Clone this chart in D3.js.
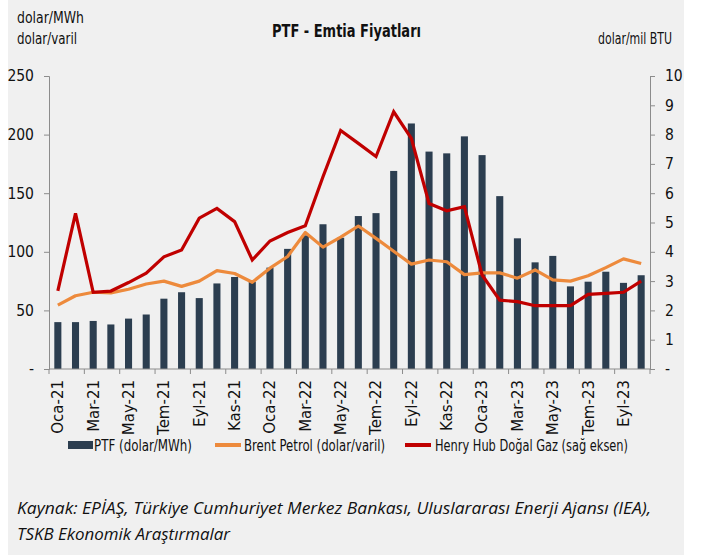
<!DOCTYPE html>
<html><head><meta charset="utf-8">
<script src="https://cdn.jsdelivr.net/npm/d3@7/dist/d3.min.js"></script>
<style>body{margin:0;background:#fff;} svg{display:block;}</style>
</head><body>
<svg id="c" width="711" height="555"></svg>
<script>
const categories = ["Oca-21","Şub-21","Mar-21","Nis-21","May-21","Haz-21","Tem-21","Ağu-21","Eyl-21","Eki-21","Kas-21","Ara-21",
"Oca-22","Şub-22","Mar-22","Nis-22","May-22","Haz-22","Tem-22","Ağu-22","Eyl-22","Eki-22","Kas-22","Ara-22",
"Oca-23","Şub-23","Mar-23","Nis-23","May-23","Haz-23","Tem-23","Ağu-23","Eyl-23","Eki-23"];
const ptf = [40,40,41,38,43,46.5,60,65.5,60.5,73,78.5,74.5,86.5,102.5,114,123.5,112,130.5,133,169,209.5,185.5,184,198.5,182.5,147.5,111.5,91,96.5,70.5,74.5,83,73.5,80];
const brent = [54.5,62.5,65.5,65,68,72.5,75,70.5,75,84,81.5,74,86,96,116.5,104,112.5,122,111.5,100.5,89.5,93,91.5,80.5,82,82,77.5,84.5,76,75,79.5,86.5,94,90];
const henryHub = [2.67,5.31,2.62,2.66,2.95,3.27,3.83,4.06,5.15,5.48,5.03,3.72,4.37,4.66,4.89,6.56,8.14,7.7,7.25,8.78,7.87,5.65,5.4,5.54,3.21,2.35,2.3,2.16,2.16,2.16,2.55,2.58,2.62,3.0];
const leftTicks = [0,50,100,150,200,250];
const rightTicks = [0,1,2,3,4,5,6,7,8,9,10];

const svg = d3.select("#c");
const narrow = "'Liberation Sans Narrow','DejaVu Sans Condensed',sans-serif";
svg.append("rect").attr("x",8).attr("y",0).attr("width",676).attr("height",555).attr("fill","#f0f0f0");

const L=49,R=650,T=76,B=369;
const x = d3.scaleBand().domain(categories).range([L,R]).paddingInner(0.6).paddingOuter(0.3);
const yL = d3.scaleLinear().domain([0,250]).range([B,T]);
const yR = d3.scaleLinear().domain([0,10]).range([B,T]);
const axisCol = "#8c8c8c";

// bars
svg.append("g").selectAll("rect").data(ptf).join("rect")
  .attr("x",(d,i)=>x(categories[i])).attr("width",x.bandwidth())
  .attr("y",d=>yL(d)).attr("height",d=>B-yL(d)).attr("fill","#2c3e50");

// left axis
const gl = svg.append("g").attr("transform",`translate(${L},0)`)
  .call(d3.axisLeft(yL).tickValues(leftTicks).tickSize(5).tickPadding(10).tickFormat(d=>d===0?"-":d));
gl.select(".domain").attr("stroke",axisCol);
gl.selectAll(".tick line").attr("stroke",axisCol);
gl.selectAll("text").attr("font-family",narrow).attr("font-size",15.5).attr("fill","#111");

// right axis
const gr = svg.append("g").attr("transform",`translate(${R},0)`)
  .call(d3.axisRight(yR).tickValues(rightTicks).tickSize(5).tickPadding(10).tickFormat(d=>d===0?"-":d));
gr.select(".domain").attr("stroke",axisCol);
gr.selectAll(".tick line").attr("stroke",axisCol);
gr.selectAll("text").attr("font-family",narrow).attr("font-size",15.5).attr("fill","#111");

// x axis
const step = x.step();
svg.append("line").attr("x1",L).attr("x2",R).attr("y1",B).attr("y2",B).attr("stroke",axisCol);
const tickIdx = categories.map((c,i)=>i).filter(i=>i%2===0);
svg.append("g").selectAll("line").data(tickIdx.concat([categories.length])).join("line")
  .attr("x1",i=>L+i*step).attr("x2",i=>L+i*step).attr("y1",B).attr("y2",B+5).attr("stroke",axisCol);
svg.append("g").selectAll("text").data(tickIdx).join("text")
  .attr("transform",i=>`translate(${x(categories[i])+x.bandwidth()/2},${B+11}) rotate(-90)`)
  .attr("text-anchor","end").attr("dy","0.36em")
  .attr("font-family","'DejaVu Sans',sans-serif").attr("font-size",15).attr("fill","#111")
  .text(i=>categories[i]);

// lines
const cx = (d,i)=>x(categories[i])+x.bandwidth()/2;
svg.append("path").datum(brent).attr("fill","none").attr("stroke","#ed8a3c").attr("stroke-width",3.2)
  .attr("stroke-linejoin","round").attr("d",d3.line().x(cx).y(d=>yL(d)));
svg.append("path").datum(henryHub).attr("fill","none").attr("stroke","#c00000").attr("stroke-width",3.2)
  .attr("stroke-linejoin","miter").attr("d",d3.line().x(cx).y(d=>yR(d)));

// titles
const fitText = (sel,len)=>sel.attr("textLength",len).attr("lengthAdjust","spacingAndGlyphs");
fitText(svg.append("text").attr("x",272).attr("y",37).attr("font-family",narrow)
  .attr("font-weight","bold").attr("font-size",18).attr("fill","#111").text("PTF - Emtia Fiyatları"),149);
fitText(svg.append("text").attr("x",17).attr("y",23).attr("font-family",narrow).attr("font-size",16.5).attr("fill","#111").text("dolar/MWh"),67);
fitText(svg.append("text").attr("x",17).attr("y",44).attr("font-family",narrow).attr("font-size",16.5).attr("fill","#111").text("dolar/varil"),60);
fitText(svg.append("text").attr("x",598).attr("y",44).attr("font-family",narrow).attr("font-size",16.5).attr("fill","#111").text("dolar/mil BTU"),74);

// legend
const lg = svg.append("g").attr("font-family",narrow).attr("font-size",16.5).attr("fill","#111");
lg.append("rect").attr("x",68).attr("y",441).attr("width",25).attr("height",8).attr("fill","#2c3e50");
fitText(lg.append("text").attr("x",94).attr("y",451).text("PTF (dolar/MWh)"),98);
lg.append("line").attr("x1",215).attr("x2",241).attr("y1",445).attr("y2",445).attr("stroke","#ed8a3c").attr("stroke-width",4);
fitText(lg.append("text").attr("x",244).attr("y",451).text("Brent Petrol (dolar/varil)"),141);
lg.append("line").attr("x1",405).attr("x2",431).attr("y1",445).attr("y2",445).attr("stroke","#c00000").attr("stroke-width",4);
fitText(lg.append("text").attr("x",435).attr("y",451).text("Henry Hub Doğal Gaz (sağ eksen)"),193);

// footer
const ft = svg.append("g").attr("font-family","'Open Sans',sans-serif").attr("font-style","italic").attr("font-size",17).attr("fill","#111");
fitText(ft.append("text").attr("x",17).attr("y",514).text("Kaynak: EPİAŞ, Türkiye Cumhuriyet Merkez Bankası, Uluslararası Enerji Ajansı (IEA),"),634);
fitText(ft.append("text").attr("x",17).attr("y",540).text("TSKB Ekonomik Araştırmalar"),213);
</script>
</body></html>
